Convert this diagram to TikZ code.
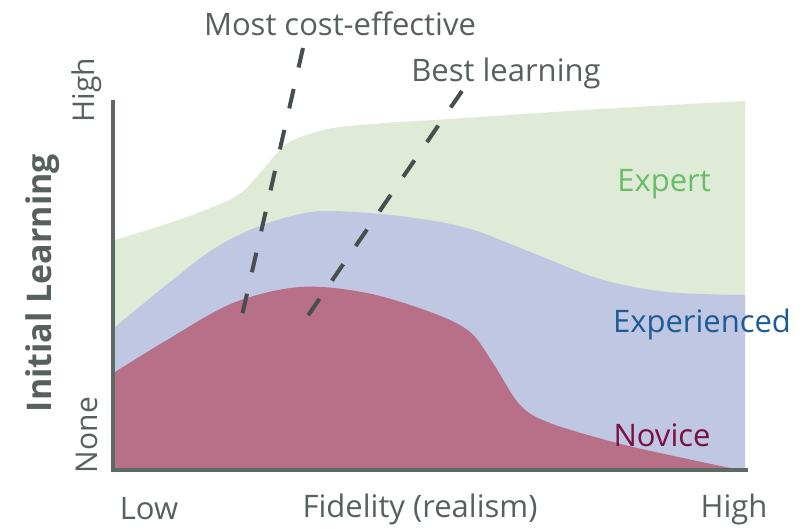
\documentclass[tikz,border=0pt]{standalone}
\usepackage{fontspec}
\setmainfont{Open Sans}
\begin{document}
\begin{tikzpicture}[x=1pt,y=-1pt,
  lbl/.style={text=axtext,font=\fontsize{31}{33}\selectfont,inner sep=0pt},
  region/.style={draw=none},
  guide/.style={draw=dashgray,line width=4pt,dash pattern=on 20pt off 22pt},
  axisline/.style={draw=axgray,line width=4pt}]
\definecolor{axtext}{RGB}{88,96,94}
\definecolor{axgray}{RGB}{92,106,100}
\definecolor{dashgray}{RGB}{72,78,78}
\definecolor{expfill}{RGB}{223,234,215}
\definecolor{expdfill}{RGB}{191,199,227}
\definecolor{novfill}{RGB}{184,112,137}
\definecolor{exptext}{RGB}{104,190,104}
\definecolor{expdtext}{RGB}{30,90,150}
\definecolor{novtext}{RGB}{122,16,64}
\useasboundingbox (0,0) rectangle (805,528);
% regions
\fill[expfill,region] plot[smooth,tension=0.6] coordinates {(115,240) (160,226) (200,212) (238,195) (260,173) (285,145) (310,134) (340,127) (400,122) (450,119) (600,109) (745,101)} -- (745,470) -- (115,470) -- cycle;
\fill[expdfill,region] plot[smooth,tension=0.55] coordinates {(115,327) (170,282) (215,248) (257,227) (300,214) (333,211) (400,216) (467,228) (533,253) (600,279) (667,292) (745,295)} -- (745,470) -- (115,470) -- cycle;
\fill[novfill,region] plot[smooth,tension=0.55] coordinates {(115,372) (167,340) (233,303) (300,287) (367,293) (433,313) (470,332) (493,363) (520,405) (550,423) (617,443) (683,458) (740,470)} -- (115,470) -- cycle;
% dashed guides
\coordinate (c1a) at (303,48);
\coordinate (c1b) at (241,320);
\coordinate (c2a) at (462,91);
\coordinate (c2b) at (307,317);
\draw[guide] (c1a) -- (c1b);
\draw[guide] (c2a) -- (c2b);
% axes
\coordinate (origin) at (113,470);
\coordinate (ytop) at (113,100);
\coordinate (xend) at (748,470);
\draw[axisline] (ytop) -- (113,472);
\draw[axisline] (111,470) -- (xend);
% labels
\node[lbl] (most) at (340,24) {Most cost-effective};
\node[lbl] (best) at (506,73) {Best learning};
\node[lbl,text=exptext] (expert) at (664,184) {Expert};
\node[lbl,text=expdtext] (experienced) at (702,324) {Experienced};
\node[lbl,text=novtext] (novice) at (662,435) {Novice};
\node[lbl] (low) at (149,509) {Low};
\node[lbl] (fid) at (420,509) {Fidelity (realism)};
\node[lbl] (xhigh) at (734,509) {High};
\node[lbl,rotate=90,font=\fontsize{30}{32}\selectfont] (ynone) at (87,435) {None};
\node[lbl,rotate=90,font=\fontsize{30}{32}\selectfont] (yhigh) at (87,90) {High};
\node[lbl,rotate=90,font=\fontsize{34}{36}\selectfont\bfseries,text=axtext] (ylab) at (43,283) {Initial Learning};
\end{tikzpicture}
\end{document}
